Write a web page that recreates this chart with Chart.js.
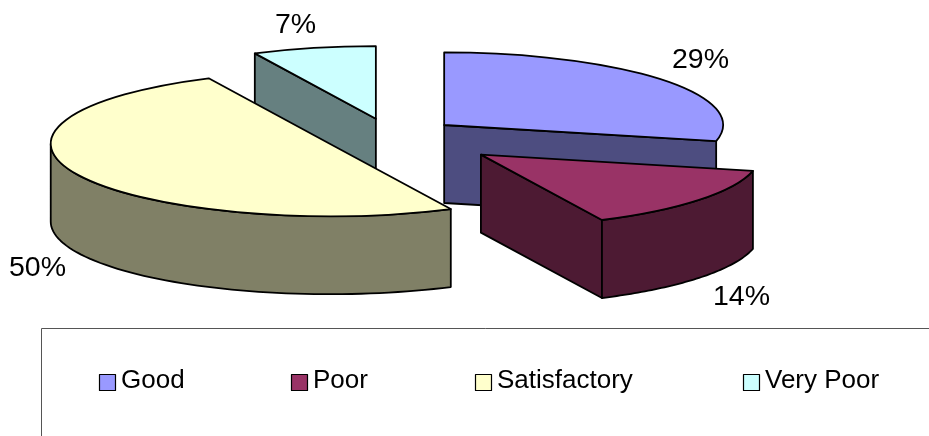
<!DOCTYPE html>
<html>
<head>
<meta charset="utf-8">
<style>
  html, body { margin: 0; padding: 0; background: #fff; }
  canvas { display: block; }
</style>
<script src="https://cdn.jsdelivr.net/npm/chart.js@4/dist/chart.umd.min.js"></script>
</head>
<body>
<canvas id="pieChartId" width="929" height="436"></canvas>
<script>
const categories = ['Good', 'Poor', 'Satisfactory', 'Very Poor'];
const responseCounts = [4, 2, 7, 1];
const percentLabels = ['29%', '14%', '50%', '7%'];
const topColors = ['#9999FF', '#993366', '#FFFFCC', '#CCFFFF'];
const sideColors = ['#4D4D80', '#4D1A33', '#808066', '#668080'];

// tilted pie with a wall under each slice, the arcs themselves come from the chart
const pie3dPlugin = {
    id: 'pie3d',
    beforeDatasetDraw(chart, args, opts) {
        const ctx = chart.ctx;
        const arcs = chart.getDatasetMeta(args.index).data;

        const centerOf = (arc, i) => {
            const mid = (arc.startAngle + arc.endAngle) / 2;
            return {
                x: arc.x + Math.cos(mid) * opts.explode[i],
                y: arc.y + Math.sin(mid) * opts.explode[i] * opts.tilt
            };
        };
        const pointOn = (c, r, angle) => ({
            x: c.x + Math.cos(angle) * r,
            y: c.y + Math.sin(angle) * r * opts.tilt
        });
        const paint = (fill) => {
            ctx.fillStyle = fill;
            ctx.fill();
            ctx.lineWidth = opts.lineWidth;
            ctx.strokeStyle = '#000';
            ctx.lineJoin = 'round';
            ctx.stroke();
        };
        const radialFace = (c, p, fill) => {
            ctx.beginPath();
            ctx.moveTo(c.x, c.y);
            ctx.lineTo(p.x, p.y);
            ctx.lineTo(p.x, p.y + opts.depth);
            ctx.lineTo(c.x, c.y + opts.depth);
            ctx.closePath();
            paint(fill);
        };
        const outerWall = (c, r, from, to, fill) => {
            ctx.beginPath();
            for (let k = 0; k <= 60; k++) {
                const p = pointOn(c, r, from + (to - from) * k / 60);
                ctx.lineTo(p.x, p.y);
            }
            for (let k = 60; k >= 0; k--) {
                const p = pointOn(c, r, from + (to - from) * k / 60);
                ctx.lineTo(p.x, p.y + opts.depth);
            }
            ctx.closePath();
            paint(fill);
        };

        // back to front
        const order = arcs.map((arc, i) => i)
            .sort((a, b) => centerOf(arcs[a], a).y - centerOf(arcs[b], b).y);

        order.forEach(i => {
            const arc = arcs[i];
            const c = centerOf(arc, i);
            const r = arc.outerRadius;
            const start = arc.startAngle;
            const end = arc.endAngle;

            if (-Math.cos(start) > 0.01) radialFace(c, pointOn(c, r, start), sideColors[i]);
            if (Math.cos(end) > 0.01) radialFace(c, pointOn(c, r, end), sideColors[i]);

            // only the part of the rim that faces the viewer
            const twoPi = Math.PI * 2;
            const shift = Math.ceil(-start / twoPi) * twoPi;
            const wallFrom = Math.max(start + shift, 0);
            const wallTo = Math.min(end + shift, Math.PI);
            if (wallTo > wallFrom) outerWall(c, r, wallFrom, wallTo, sideColors[i]);

            // top face: the chart's own arc element, squashed
            ctx.save();
            ctx.translate(c.x, c.y);
            ctx.scale(1, opts.tilt);
            ctx.translate(-arc.x, -arc.y);
            arc.draw(ctx);
            ctx.restore();

            // outline in screen space so the stroke stays even
            ctx.save();
            ctx.translate(c.x, c.y);
            ctx.scale(1, opts.tilt);
            ctx.beginPath();
            ctx.moveTo(0, 0);
            ctx.arc(0, 0, r, start, end);
            ctx.closePath();
            ctx.restore();
            ctx.lineWidth = opts.lineWidth;
            ctx.strokeStyle = '#000';
            ctx.lineJoin = 'round';
            ctx.stroke();
        });
        return false;
    },
    afterDraw(chart, args, opts) {
        const ctx = chart.ctx;
        ctx.save();

        ctx.fillStyle = '#000';
        ctx.textBaseline = 'alphabetic';
        ctx.textAlign = 'left';
        ctx.font = opts.labelFont;
        percentLabels.forEach((text, i) => {
            ctx.fillText(text, opts.labelSpots[i][0], opts.labelSpots[i][1]);
        });

        // legend frame, cut by the right and bottom of the picture
        ctx.strokeStyle = '#555';
        ctx.lineWidth = 1;
        ctx.beginPath();
        ctx.moveTo(41.5, 436);
        ctx.lineTo(41.5, 328.5);
        ctx.lineTo(929, 328.5);
        ctx.stroke();

        ctx.font = opts.legendFont;
        categories.forEach((name, i) => {
            const x = opts.legendX[i];
            ctx.fillStyle = topColors[i];
            ctx.fillRect(x + 0.5, 374.5, 16, 16);
            ctx.strokeStyle = '#000';
            ctx.lineWidth = 1.2;
            ctx.strokeRect(x + 0.5, 374.5, 16, 16);
            ctx.fillStyle = '#000';
            ctx.fillText(name, x + 22, 388);
        });
        ctx.restore();
    }
};

new Chart(document.getElementById('pieChartId'), {
    type: 'pie',
    data: {
        labels: categories,
        datasets: [{
            data: responseCounts,
            backgroundColor: topColors,
            borderWidth: 0,
            radius: 279
        }]
    },
    plugins: [pie3dPlugin],
    options: {
        responsive: false,
        animation: false,
        events: [],
        layout: { padding: { left: 0, top: 0, right: 147, bottom: 164 } },
        plugins: {
            legend: { display: false },
            tooltip: { enabled: false },
            pie3d: {
                tilt: 0.26,
                depth: 78,
                lineWidth: 1.8,
                explode: [68, 115, 68, 68],
                labelFont: '28.5px "Liberation Sans", Arial, sans-serif',
                legendFont: '26px "Liberation Sans", Arial, sans-serif',
                labelSpots: [[672, 68], [713, 305], [9, 276], [275, 33]],
                legendX: [99, 291, 475, 743]
            }
        }
    }
});
</script>
</body>
</html>
